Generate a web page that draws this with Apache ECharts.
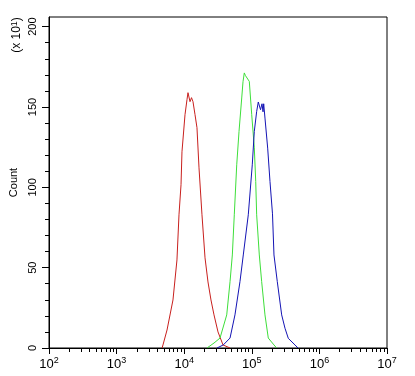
<!DOCTYPE html>
<html>
<head>
<meta charset="utf-8">
<script src="https://cdn.jsdelivr.net/npm/echarts@6/dist/echarts.min.js"></script>
<style>
  html, body { margin: 0; padding: 0; background: #fff; }
  #chart { width: 415px; height: 376px; }
</style>
</head>
<body>
<div id="chart"></div>
<script>
// x values are log10 of fluorescence intensity, counts are in units of 10
const redLog = [3.672, 3.686, 3.746, 3.834, 3.893, 3.923, 3.953, 3.967, 4.012, 4.041, 4.056, 4.078, 4.086, 4.108, 4.130, 4.160, 4.189, 4.219, 4.263, 4.308, 4.352, 4.396, 4.441, 4.500, 4.574, 4.678]
const redCount = [0, 1.9, 11.2, 29.9, 54.8, 82.9, 101.6, 122.1, 145.2, 154.5, 158.9, 158.9, 153.3, 155.8, 153.3, 145.2, 137.1, 112.1, 82.9, 56.1, 41.1, 29.9, 20.6, 10.0, 1.9, 0]

const greenLog = [4.337, 4.356, 4.441, 4.530, 4.629, 4.678, 4.712, 4.741, 4.777, 4.811, 4.851, 4.870, 4.889, 4.907, 4.933, 4.963, 4.999, 5.037, 5.058, 5.072, 5.111, 5.146, 5.195, 5.244, 5.328, 5.368]
const greenCount = [0, 0.8, 3.1, 6.2, 20.6, 41.3, 57.9, 82.9, 114.0, 134.8, 155.6, 165.7, 171.2, 169.5, 169.0, 165.9, 145.2, 124.6, 103.6, 82.9, 57.9, 41.3, 20.6, 6.2, 1.9, 0]

const blueLog = [4.485, 4.578, 4.678, 4.751, 4.825, 4.874, 4.948, 5.007, 5.037, 5.072, 5.096, 5.129, 5.151, 5.166, 5.176, 5.195, 5.235, 5.269, 5.306, 5.328, 5.377, 5.442, 5.491, 5.540, 5.639, 5.683]
const blueCount = [0, 1.9, 6.2, 20.6, 41.3, 57.9, 82.9, 114.0, 134.8, 147.2, 153.1, 148.3, 152.0, 147.0, 152.0, 143.1, 124.4, 103.6, 83.5, 57.9, 41.3, 20.6, 12.3, 6.0, 1.9, 0]

const xMajor = [2, 3, 4, 5, 6, 7]
const yMajor = [0, 50, 100, 150, 200]
const yMinor = [10, 20, 30, 40, 60, 70, 80, 90, 110, 120, 130, 140, 160, 170, 180, 190]

// minor ticks at 2..9 x 10^n
const xMinor = []
for (let n = 2; n < 7; n++) {
  for (let k = 2; k < 10; k++) {
    xMinor.push(n + Math.log10(k))
  }
}

function pairs(xs, ys) {
  return xs.map((x, i) => [x, ys[i]])
}

const font = 'Liberation Sans, Arial, sans-serif'
const chart = echarts.init(document.getElementById('chart'))

chart.setOption({
  animation: false,
  grid: {
    left: 49,
    right: 28,
    top: 17,
    bottom: 28,
    show: true,
    borderColor: '#000',
    borderWidth: 1,
    outerBoundsMode: 'none'
  },
  xAxis: [{
    type: 'value',
    min: 2,
    max: 7,
    interval: 1,
    axisLine: { lineStyle: { color: '#000' } },
    axisTick: { customValues: xMajor, length: 6, lineStyle: { color: '#000' } },
    splitLine: { show: false },
    axisLabel: {
      customValues: xMajor,
      margin: 8,
      color: '#000',
      fontFamily: font,
      formatter: v => '{b|10}{s|' + v + '}',
      rich: {
        b: { fontSize: 13, fontFamily: font, color: '#000', lineHeight: 16 },
        s: { fontSize: 9, fontFamily: font, color: '#000', verticalAlign: 'top', lineHeight: 16, padding: [0, 0, 6, 0] }
      }
    }
  }, {
    type: 'value',
    min: 2,
    max: 7,
    position: 'bottom',
    axisLine: { show: false },
    axisTick: { customValues: xMinor, length: 4, lineStyle: { color: '#000' } },
    splitLine: { show: false },
    axisLabel: { show: false }
  }],
  yAxis: [{
    type: 'value',
    min: 0,
    max: 206,
    interval: 50,
    name: 'Count',
    nameLocation: 'middle',
    nameRotate: 90,
    nameGap: 29,
    nameTextStyle: { color: '#000', fontSize: 11, fontFamily: font },
    axisLine: { lineStyle: { color: '#000' } },
    axisTick: { customValues: yMajor, length: 7, lineStyle: { color: '#000' } },
    splitLine: { show: false },
    axisLabel: {
      customValues: yMajor,
      rotate: 90,
      margin: 11,
      color: '#000',
      fontSize: 11,
      fontFamily: font
    }
  }, {
    type: 'value',
    min: 0,
    max: 206,
    position: 'left',
    axisLine: { show: false },
    axisTick: { customValues: yMinor, length: 4, lineStyle: { color: '#000' } },
    splitLine: { show: false },
    axisLabel: { show: false }
  }],
  graphic: [{
    type: 'text',
    x: 17,
    y: 35,
    rotation: Math.PI / 2,
    style: {
      text: '(x 10{s|1})',
      fill: '#000',
      fontSize: 12,
      fontFamily: font,
      align: 'center',
      verticalAlign: 'middle',
      rich: {
        s: { fontSize: 9, fontFamily: font, fill: '#000', verticalAlign: 'top', padding: [0, 0, 5, 0] }
      }
    }
  }],
  series: [{
    type: 'line',
    data: pairs(redLog, redCount),
    symbol: 'none',
    lineStyle: { color: '#c8201e', width: 1 }
  }, {
    type: 'line',
    data: pairs(greenLog, greenCount),
    symbol: 'none',
    lineStyle: { color: '#3ede3a', width: 1 }
  }, {
    type: 'line',
    data: pairs(blueLog, blueCount),
    symbol: 'none',
    lineStyle: { color: '#1414b4', width: 1 }
  }]
})
</script>
</body>
</html>
